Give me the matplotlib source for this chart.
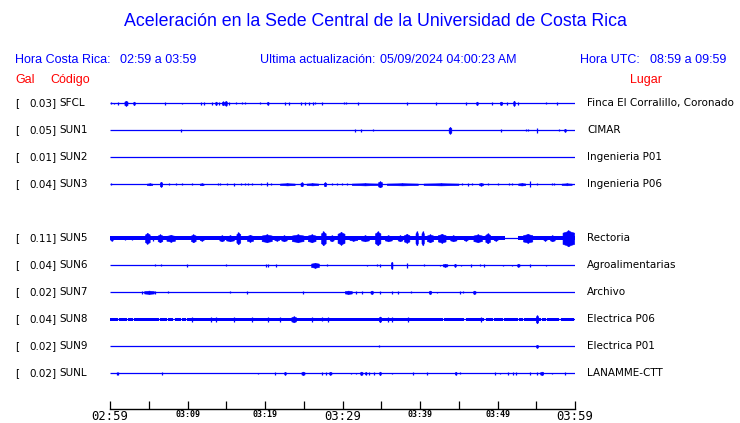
import matplotlib.pyplot as plt

W, H = 740, 423
BLUE = '#0000FF'
RED = '#FF0000'

# ── Data ───────────────────────────────────────────────────────────────────────
codes = ['SFCL', 'SUN1', 'SUN2', 'SUN3', 'SUN5', 'SUN6', 'SUN7', 'SUN8', 'SUN9', 'SUNL']
rows = [0, 1, 2, 3, 5, 6, 7, 8, 9, 10]          # SUN4 slot is empty
gal = [0.03, 0.05, 0.01, 0.04, 0.11, 0.04, 0.02, 0.04, 0.02, 0.02]
places = ['Finca El Corralillo, Coronado', 'CIMAR', 'Ingenieria P01', 'Ingenieria P06',
          'Rectoria', 'Agroalimentarias', 'Archivo', 'Electrica P06', 'Electrica P01',
          'LANAMME-CTT']

tick_minutes = list(range(0, 61, 5))
tick_labels = ['02:59', '', '03:09', '', '03:19', '', '03:29', '', '03:39', '', '03:49', '', '03:59']
big_labels = ['02:59', '03:29', '03:59']

# bursts per station: (minutes after 02:59, half amplitude, duration in minutes)
sfcl = [(0.13, 1, 0), (0.55, 0.7, 0), (1.07, 1.3, 0), (2.06, 2.5, 0.4), (3.10, 1.7, 0.2),
        (7.14, 1.3, 0), (9.33, 0.7, 0), (11.70, 1.3, 0), (12.17, 1.3, 0), (13.12, 1.3, 0),
        (13.68, 1.7, 0.2), (14.03, 1.3, 0), (14.58, 1.8, 0.3), (14.93, 2.3, 0.3), (15.35, 1.3, 0),
        (16.26, 1, 0), (16.99, 0.8, 0), (17.46, 0.8, 0), (19.39, 0.8, 0), (20.35, 1.5, 0.2),
        (22.58, 1.3, 0), (23.14, 1.3, 0), (24.65, 1.3, 0), (25.20, 1.3, 0), (25.72, 1.3, 0),
        (26.19, 1.3, 0), (26.45, 0.8, 0), (27.32, 1.3, 0), (30.15, 1, 0), (30.41, 1, 0),
        (32.04, 1.3, 0), (38.36, 1.3, 0), (42.10, 1.3, 0), (45.90, 1.3, 0), (47.35, 1.7, 0.2),
        (49.33, 1.3, 0), (50.45, 1.7, 0.3), (51.19, 1.3, 0), (52.13, 2.5, 0.2), (52.61, 1.5, 0),
        (56.22, 0.8, 0), (57.72, 1.3, 0)]
sun1 = [(9.12, 1.5, 0), (31.66, 1.5, 0), (32.43, 1.5, 0), (33.98, 1, 0), (43.87, 3.3, 0.35),
        (50.49, 1.5, 0), (53.64, 1, 0), (53.90, 1, 0), (55.14, 2.5, 0), (57.97, 1, 0),
        (58.71, 1.5, 0.2)]
sun2 = []
sun3 = [(0.13, 1, 0), (5.1, 1, 0.7), (6.58, 2.5, 0.3), (7.57, 1, 0), (8.52, 1, 0), (9.33, 1, 0),
        (10.54, 1, 0), (11.83, 1, 0.5), (13.89, 1, 0), (14.19, 1, 0), (15.05, 1, 0),
        (15.96, 1.3, 0), (16.90, 1, 0), (17.42, 1, 0), (17.85, 1, 0), (18.28, 1, 0),
        (19.48, 1, 0), (20.26, 2, 0), (20.73, 1, 0), (22.88, 1.1, 1.9), (24.73, 2, 0.3),
        (26.11, 1.1, 1.5), (27.74, 2, 0.3), (28.60, 1, 0), (29.25, 1, 0), (29.98, 1, 0),
        (30.54, 1, 0), (32.90, 1.1, 3.4), (34.84, 3, 0.5), (37.72, 1.1, 4.0), (42.71, 1.1, 4.5),
        (45.46, 1, 0), (46.24, 1.3, 0), (46.67, 1, 0), (47.87, 1.3, 0.5), (48.82, 1, 0),
        (50.02, 1, 0), (51.48, 1, 0), (51.91, 1, 0), (53.12, 1.2, 0.9), (54.24, 3, 0),
        (55.10, 1, 0), (56.99, 1, 0), (57.25, 1, 0), (58.92, 1, 1.3)]
sun5 = [(0.2, 2.5, 0.3), (1.94, 2, 0), (2.80, 2, 0), (4.82, 5.5, 0.6), (5.59, 2.5, 0),
        (6.45, 4, 0.6), (7.83, 3.5, 1.1), (10.75, 4, 0.6), (11.83, 2.5, 0.5), (14.41, 3, 0.6),
        (15.48, 3, 1.0), (16.56, 6, 0.5), (18.06, 3.5, 0.8), (20.22, 4, 1.3), (21.51, 2.5, 0.6),
        (22.45, 3, 0.7), (24.22, 4, 1.5), (26.02, 4, 1.0), (27.53, 7, 0.6), (28.60, 3, 0.5),
        (29.81, 6.5, 0.9), (31.40, 2.5, 1.0), (32.90, 3, 1.0), (34.54, 7, 0.7), (35.91, 3, 0.9),
        (37.42, 3, 0.6), (38.28, 4.5, 0.7), (39.57, 7, 0.3), (40.34, 7, 0.3), (41.29, 4, 0.8),
        (42.80, 4.5, 1.0), (44.30, 3, 0.8), (45.89, 2.5, 0.5), (47.44, 4, 1.1), (48.73, 5, 0.6),
        (49.76, 2.5, 0.5), (53.89, 4.5, 1.2), (56.13, 2.5, 0.4), (57.08, 3, 0.6), (59.14, 8, 1.5)]
sun6 = [(5.81, 1, 0), (6.58, 1, 0), (9.89, 1.5, 0), (14.97, 1, 0), (20.17, 1.3, 0),
        (20.43, 1.3, 0), (21.38, 1.5, 0), (26.45, 2.5, 1.0), (27.96, 1, 0), (33.12, 0.7, 0),
        (34.41, 1, 0), (34.84, 1.5, 0), (36.34, 3.5, 0.2), (38.28, 2.5, 0), (40.56, 1, 0),
        (42.58, 0.7, 0), (43.23, 1.5, 0.6), (44.52, 1.5, 0.2), (45.25, 0.7, 0), (46.58, 1.5, 0),
        (47.74, 1, 0), (48.26, 1.5, 0), (50.75, 0.7, 0), (51.91, 0.7, 0), (52.69, 1.5, 0.3),
        (54.19, 1.5, 0), (56.22, 0.7, 0)]
sun7 = [(4.09, 1.5, 0), (5.03, 1.7, 1.25), (5.81, 1.5, 0), (7.44, 1, 0), (15.53, 1, 0),
        (17.72, 1.5, 0), (24.86, 1.3, 0), (30.75, 1.7, 0.9), (31.70, 1.3, 0), (32.47, 1.3, 0),
        (33.76, 1.7, 0.3), (34.80, 1.3, 0), (36.34, 1.5, 0), (37.12, 1.5, 0), (38.80, 1, 0),
        (41.29, 1.7, 0.3), (42.24, 0.7, 0), (45.16, 1.3, 0), (45.59, 1, 0), (47.01, 1.7, 0.3)]
sun8 = [(10.62, 2.3, 0), (13.03, 2.5, 0), (13.68, 2.5, 0), (16.04, 2.3, 0), (18.28, 2.3, 0),
        (20.34, 2.3, 0), (21.98, 2.3, 0), (23.70, 3, 0.6), (26.02, 2.5, 0), (27.31, 2, 0),
        (28.09, 2.3, 0), (34.84, 2.8, 0.3), (35.83, 2.2, 0), (36.34, 2.2, 0), (38.49, 2.2, 0),
        (47.83, 2.2, 0), (55.10, 4, 0.3)]
sun9 = [(34.75, 1, 0), (55.10, 1.5, 0.25)]
sunl = [(0.86, 1.5, 0), (1.08, 1.5, 0), (6.67, 1.5, 0), (19.14, 0.8, 0), (21.25, 1.5, 0),
        (22.58, 1.5, 0.2), (24.90, 1.7, 0.4), (27.31, 1.5, 0), (27.83, 1.5, 0), (28.43, 1.5, 0.3),
        (31.05, 0.8, 0), (31.70, 0.8, 0), (32.43, 1.7, 0.3), (32.99, 1.3, 0.2), (33.42, 1.3, 0),
        (34.11, 1.3, 0), (34.84, 1.7, 0.2), (36.34, 0.8, 0), (39.14, 1.5, 0), (40.95, 1.5, 0),
        (44.60, 1.5, 0.2), (45.20, 1, 0), (49.63, 1.5, 0), (50.37, 0.8, 0), (51.35, 1.5, 0),
        (52.04, 1.3, 0), (52.43, 1.3, 0), (54.24, 1.3, 0), (55.05, 1.3, 0), (55.70, 1.7, 0.4),
        (56.99, 0.8, 0), (58.67, 1.3, 0)]
bursts = [sfcl, sun1, sun2, sun3, sun5, sun6, sun7, sun8, sun9, sunl]

# continuous noise band (half thickness) and the quiet gaps in it
band = {'SUN5': 1.9, 'SUN8': 1.7}
band_gaps = {'SUN5': [51.0, 52.7],
             'SUN8': [1.08, 2.28, 3.01, 6.37, 7.40, 8.26, 9.25, 9.89, 43.01, 45.81, 48.39,
                      49.46, 50.75, 52.69, 53.33, 55.70, 56.34, 58.06]}

# ── Layout helpers ─────────────────────────────────────────────────────────────
ROW_PX = 27.0          # pixel spacing between station rows
ROW0_PX = 103.3        # pixel y of first row


def fx(x):
    return x / W


def fy(y):
    return 1 - y / H


def ftext(x, y, s, **kw):
    kw.setdefault('va', 'center')
    fig.text(fx(x), fy(y), s, **kw)


fig = plt.figure(figsize=(W / 100, H / 100), dpi=100)
fig.patch.set_facecolor('white')

ax_top, ax_bot = 76, 409
ax = fig.add_axes([fx(110), fy(ax_bot), (575 - 110) / W, (ax_bot - ax_top) / H])
ax.set_xlim(0, 60)
ax.set_ylim((ax_bot - ROW0_PX) / ROW_PX, (ax_top - ROW0_PX) / ROW_PX)
for s in ['top', 'left', 'right']:
    ax.spines[s].set_visible(False)
ax.spines['bottom'].set_linewidth(1.0)
ax.set_yticks([])
ax.set_xticks(tick_minutes)
ax.set_xticklabels(tick_labels)
ax.tick_params(axis='x', direction='in', length=5.5, width=0.9, pad=1)
for lab in ax.get_xticklabels():
    lab.set_family('DejaVu Sans Mono')
    if lab.get_text() in big_labels:
        lab.set_fontsize(8.8)
    else:
        lab.set_fontsize(6)
        lab.set_fontweight('bold')

# ── Traces ─────────────────────────────────────────────────────────────────────
for code, r, ev in zip(codes, rows, bursts):
    ax.plot([0, 60], [r, r], color=BLUE, lw=0.9, solid_capstyle='butt', zorder=2)
    if code in band:
        h = band[code] / ROW_PX
        gaps = band_gaps[code]
        if code == 'SUN5':
            segs = [(0, gaps[0]), (gaps[1], 60 - gaps[1])]
        else:
            edges = [0] + gaps + [60]
            segs = [(a + 0.08, b - a - 0.16) for a, b in zip(edges[:-1], edges[1:])]
            segs[0] = (0, segs[0][1] + 0.08)
        ax.broken_barh(segs, (r - h, 2 * h), facecolor=BLUE, lw=0, zorder=2)
    for t, amp, dur in ev:
        a = amp / ROW_PX
        if dur > 0:
            # envelope of a short burst
            xs = [t - dur / 2, t - dur / 6, t, t + dur / 6, t + dur / 2]
            hs = [0.7 * a, 0.85 * a, a, 0.85 * a, 0.7 * a]
            ax.fill_between(xs, [r - v for v in hs], [r + v for v in hs],
                            facecolor=BLUE, edgecolor=BLUE, lw=0.4, zorder=3)
        ax.vlines(t, r - a, r + a, color=BLUE, lw=0.9, zorder=3)

# ── Header texts ───────────────────────────────────────────────────────────────
head = dict(family='Liberation Sans', color=BLUE)
ftext(375, 21, 'Aceleración en la Sede Central de la Universidad de Costa Rica',
      ha='center', fontsize=12.8, **head)
ftext(15, 60, 'Hora Costa Rica:', fontsize=9, **head)
ftext(120, 60, '02:59 a 03:59', fontsize=9, **head)
ftext(260, 60, 'Ultima actualización:', fontsize=9, **head)
ftext(380, 60, '05/09/2024 04:00:23 AM', fontsize=9, **head)
ftext(580, 60, 'Hora UTC:', fontsize=9, **head)
ftext(650, 60, '08:59 a 09:59', fontsize=9, **head)

ftext(15, 80, 'Gal', fontsize=9, family='Liberation Sans', color=RED)
ftext(50, 80, 'Código', fontsize=9, family='Liberation Sans', color=RED)
ftext(630, 80, 'Lugar', fontsize=9, family='Liberation Sans', color=RED)

# ── Row labels ─────────────────────────────────────────────────────────────────
for code, r, g, place in zip(codes, rows, gal, places):
    y = ROW0_PX + r * ROW_PX
    ftext(15, y, '[', fontsize=7.5, color='black')
    ftext(57, y, f'{g:.2f}]', ha='right', fontsize=7.5, color='black')
    ftext(59, y, code, fontsize=7.5, color='black')
    ftext(587, y, place, fontsize=7.5, color='black')

fig.savefig('out.png', dpi=100, facecolor='white')
